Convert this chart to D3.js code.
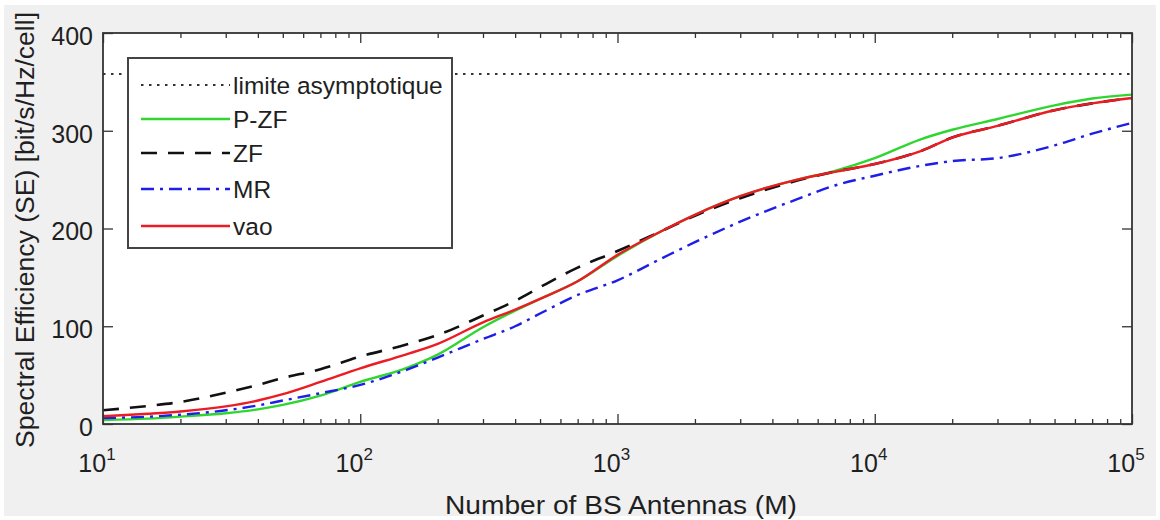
<!DOCTYPE html>
<html>
<head>
<meta charset="utf-8">
<script src="https://cdn.jsdelivr.net/npm/d3@7"></script>
<style>
  body { margin: 0; background: #ffffff; }
  svg { display: block; }
  text { font-family: "Liberation Sans", Arial, Helvetica, sans-serif; fill: #1f1f1f; }
</style>
</head>
<body>
<svg id="chart" width="1160" height="520"></svg>
<script>
// Number of BS antennas (x axis, log scale)
const antennas = [10, 15, 20, 30, 40, 50, 70, 100, 150, 200, 300, 400, 500, 700,
                  1000, 1500, 2000, 3000, 5000, 7000, 10000, 15000, 20000, 30000,
                  50000, 70000, 100000];

// Spectral efficiency per scheme [bit/s/Hz/cell]
const sePZF = [4, 5.5, 7.5, 11, 15, 19.5, 29, 43, 57, 71, 99, 116, 128, 146,
               172, 198, 214, 233, 250, 259, 272, 291, 301, 312, 326, 333, 337];
const seZF  = [14, 18.5, 22.5, 32, 40, 47, 56, 69, 81, 91, 111, 126, 140, 160,
               177, 198, 213, 231, 249, 258, 266, 279, 293, 305, 321, 328, 333.5];
const seMR  = [6, 7.5, 9.5, 14, 19, 24, 31.5, 40, 55, 68, 87, 100, 113, 132,
               147, 170, 186, 207, 230, 244, 254, 264, 269, 272, 285, 297, 308];
const seVao = [8, 10.5, 12.8, 18, 24, 30.5, 43, 57, 71, 82, 104, 117, 128, 146,
               173, 198, 214, 233, 250, 258, 266, 279, 293, 305, 321, 328, 333.5];

// Asymptotic limit
const seLimit = 358;

// Axis ticks
const xMajorTicks = [10, 100, 1000, 10000, 100000];
const xTickExponents = ["1", "2", "3", "4", "5"];
const yTicks = [0, 100, 200, 300, 400];

// Legend entries (in plotting order)
const legendNames = ["limite asymptotique", "P-ZF", "ZF", "MR", "vao"];

const svg = d3.select("#chart");
const W = 1160, H = 520;
const plot = { left: 103, right: 1132, top: 33, bottom: 424 };

// Figure background
svg.append("rect").attr("x", 4).attr("y", 5).attr("width", W - 8).attr("height", H - 9)
  .attr("fill", "#f0f0f0");

const x = d3.scaleLog().domain([10, 100000]).range([plot.left, plot.right]);
const y = d3.scaleLinear().domain([0, 400]).range([plot.bottom, plot.top]);

// Plot area
svg.append("rect")
  .attr("x", plot.left).attr("y", plot.top)
  .attr("width", plot.right - plot.left).attr("height", plot.bottom - plot.top)
  .attr("fill", "#ffffff");

// Minor log ticks 2..9 per decade
const xMinorTicks = [];
for (let d = 10; d < 100000; d *= 10) {
  for (let k = 2; k <= 9; k++) xMinorTicks.push(d * k);
}

function styleAxis(g) {
  g.select(".domain").remove();
  g.selectAll(".tick line").attr("stroke", "#333333").attr("stroke-width", 1.3);
}

// Bottom / top axes (ticks pointing inside)
svg.append("g").attr("transform", `translate(0,${plot.bottom})`)
  .call(d3.axisBottom(x).tickValues(xMajorTicks).tickSize(-10).tickFormat(() => ""))
  .call(styleAxis);
svg.append("g").attr("transform", `translate(0,${plot.bottom})`)
  .call(d3.axisBottom(x).tickValues(xMinorTicks).tickSize(-5).tickFormat(() => ""))
  .call(styleAxis);
svg.append("g").attr("transform", `translate(0,${plot.top})`)
  .call(d3.axisTop(x).tickValues(xMajorTicks).tickSize(-10).tickFormat(() => ""))
  .call(styleAxis);
svg.append("g").attr("transform", `translate(0,${plot.top})`)
  .call(d3.axisTop(x).tickValues(xMinorTicks).tickSize(-5).tickFormat(() => ""))
  .call(styleAxis);

// Left / right axes
const yLeft = svg.append("g").attr("transform", `translate(${plot.left},0)`)
  .call(d3.axisLeft(y).tickValues(yTicks).tickSize(-10).tickPadding(10))
  .call(styleAxis);
yLeft.selectAll(".tick text")
  .attr("font-size", 25).attr("dy", "0.45em").attr("fill", "#1f1f1f")
  .style("font-family", "'Liberation Sans', Arial, sans-serif");
svg.append("g").attr("transform", `translate(${plot.right},0)`)
  .call(d3.axisRight(y).tickValues(yTicks).tickSize(-10).tickFormat(() => ""))
  .call(styleAxis);

// x tick labels with superscript exponents
const xLabels = svg.append("g");
xMajorTicks.forEach((v, i) => {
  const t = xLabels.append("text")
    .attr("x", x(v) - 6).attr("y", plot.bottom + 48)
    .attr("text-anchor", "middle").attr("font-size", 25);
  t.append("tspan").text("10");
  t.append("tspan").attr("dy", -12).attr("font-size", 17).text(xTickExponents[i]);
});

// Asymptotic limit
svg.append("line")
  .attr("x1", plot.left).attr("x2", plot.right)
  .attr("y1", y(seLimit)).attr("y2", y(seLimit))
  .attr("stroke", "#333333").attr("stroke-width", 2).attr("stroke-dasharray", "2.5,5.5");

const line = d3.line()
  .x(d => x(d[0])).y(d => y(d[1]))
  .curve(d3.curveMonotoneX);

const series = [
  { values: sePZF, color: "#2fd62f", width: 2.4, dash: null },
  { values: seZF,  color: "#111111", width: 2.6, dash: "16,11" },
  { values: seMR,  color: "#1e1ee6", width: 2.4, dash: "13,6,3,6" },
  { values: seVao, color: "#ec1c24", width: 2.4, dash: null }
];

series.forEach(s => {
  svg.append("path")
    .datum(antennas.map((m, i) => [m, s.values[i]]))
    .attr("d", line)
    .attr("fill", "none")
    .attr("stroke", s.color)
    .attr("stroke-width", s.width)
    .attr("stroke-dasharray", s.dash);
});

// Axes box
svg.append("rect")
  .attr("x", plot.left).attr("y", plot.top)
  .attr("width", plot.right - plot.left).attr("height", plot.bottom - plot.top)
  .attr("fill", "none").attr("stroke", "#333333").attr("stroke-width", 1.8);

// Legend
const legend = svg.append("g");
legend.append("rect")
  .attr("x", 128).attr("y", 58).attr("width", 324).attr("height", 190)
  .attr("fill", "#ffffff").attr("stroke", "#444444").attr("stroke-width", 2);

const legendStyles = [
  { color: "#333333", width: 2, dash: "2.5,5.5" },
  ...series.map(s => ({ color: s.color, width: s.width, dash: s.dash }))
];
const legendY = [85, 119, 153, 189, 226];
legendNames.forEach((name, i) => {
  const st = legendStyles[i];
  legend.append("line")
    .attr("x1", 141).attr("x2", 230)
    .attr("y1", legendY[i]).attr("y2", legendY[i])
    .attr("stroke", st.color).attr("stroke-width", st.width)
    .attr("stroke-dasharray", st.dash);
  legend.append("text")
    .attr("x", 233).attr("y", legendY[i] + 8.5)
    .attr("font-size", 24.5).text(name);
});

// Axis titles
svg.append("text")
  .attr("x", 621).attr("y", 514)
  .attr("text-anchor", "middle").attr("font-size", 25)
  .attr("textLength", 352).attr("lengthAdjust", "spacingAndGlyphs")
  .text("Number of BS Antennas (M)");

svg.append("text")
  .attr("transform", "translate(34,230) rotate(-90)")
  .attr("text-anchor", "middle").attr("font-size", 25)
  .attr("textLength", 436).attr("lengthAdjust", "spacingAndGlyphs")
  .text("Spectral Efficiency (SE) [bit/s/Hz/cell]");
</script>
</body>
</html>
